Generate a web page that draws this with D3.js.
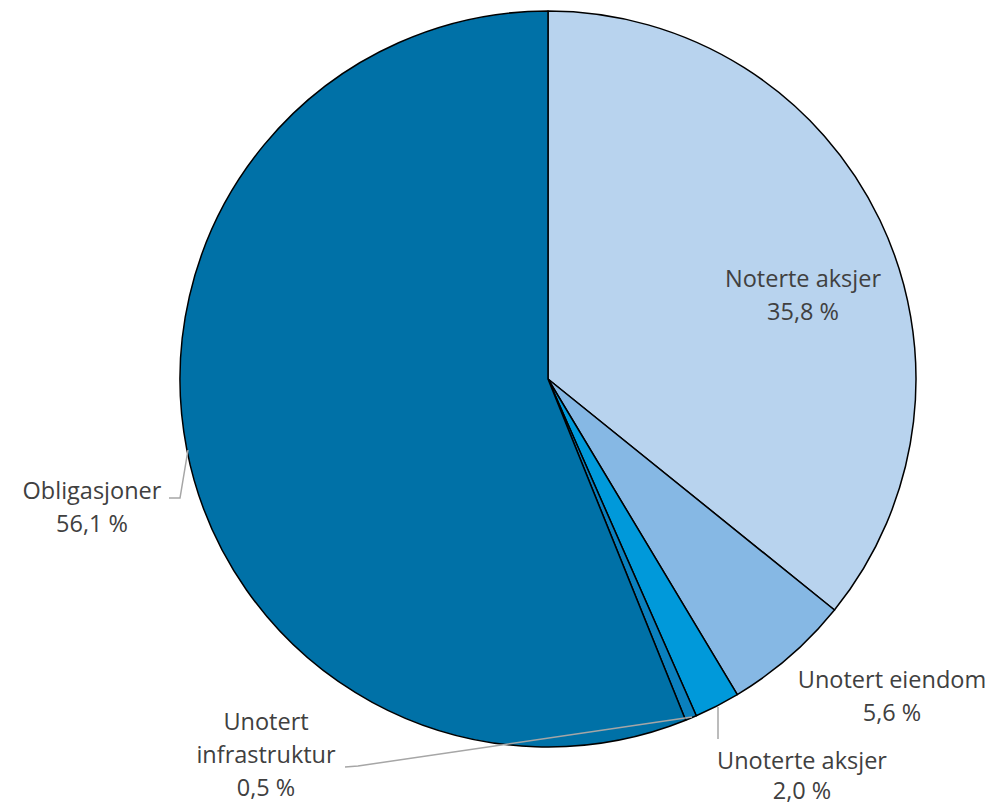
<!DOCTYPE html>
<html><head><meta charset="utf-8">
<script src="https://cdn.jsdelivr.net/npm/d3@7"></script>
<style>body{margin:0;background:#fff}svg{display:block}text{font-family:"Open Sans",sans-serif;fill:#404040}</style>
</head><body>
<svg id="c" width="1002" height="809"></svg>
<script>
const categories = ["Noterte aksjer","Unotert eiendom","Unoterte aksjer","Unotert infrastruktur","Obligasjoner"];
const values = [35.8, 5.6, 2.0, 0.5, 56.1];
const valueLabels = ["35,8 %","5,6 %","2,0 %","0,5 %","56,1 %"];
const colors = ["#B8D3EE","#86B8E4","#0099DA","#0A80BE","#0071A7"];

const svg = d3.select("#c");
const cx = 548, cy = 379, R = 368;
const g = svg.append("g").attr("transform", `translate(${cx},${cy})`);
const pie = d3.pie().sort(null).value(d => d)(values);
const arc = d3.arc().innerRadius(0).outerRadius(R);
g.selectAll("path").data(pie).join("path")
  .attr("d", arc).attr("fill", (d,i) => colors[i])
  .attr("stroke", "#000").attr("stroke-width", 1.5).attr("stroke-linejoin","round");

// leader lines (label-placement geometry)
const leaders = [
  [[169,498],[180,498],[188,450]],
  [[718,739],[718,707]],
  [[345,767],[358,766],[692,717]]
];
svg.selectAll("polyline").data(leaders).join("polyline")
  .attr("points", d => d.map(p => p.join(",")).join(" "))
  .attr("fill","none").attr("stroke","#A6A6A6").attr("stroke-width",1.5);

const fs = 23.5;
const labels = [
  {lines:[categories[0], valueLabels[0]], x:803, y:287, anchor:"middle", lh:33},
  {lines:[categories[1], valueLabels[1]], x:892, y:688, anchor:"middle", lh:33},
  {lines:[categories[2], valueLabels[2]], x:802, y:769, anchor:"middle", lh:30},
  {lines:["Unotert","infrastruktur", valueLabels[3]], x:266, y:730, anchor:"middle", lh:33},
  {lines:[categories[4], valueLabels[4]], x:92, y:499, anchor:"middle", lh:33}
];
labels.forEach(l => {
  const t = svg.append("text").attr("text-anchor", l.anchor).attr("font-size", fs);
  l.lines.forEach((s, k) => t.append("tspan").attr("x", l.x).attr("y", l.y + k*l.lh).text(s));
});
</script>
</body></html>
